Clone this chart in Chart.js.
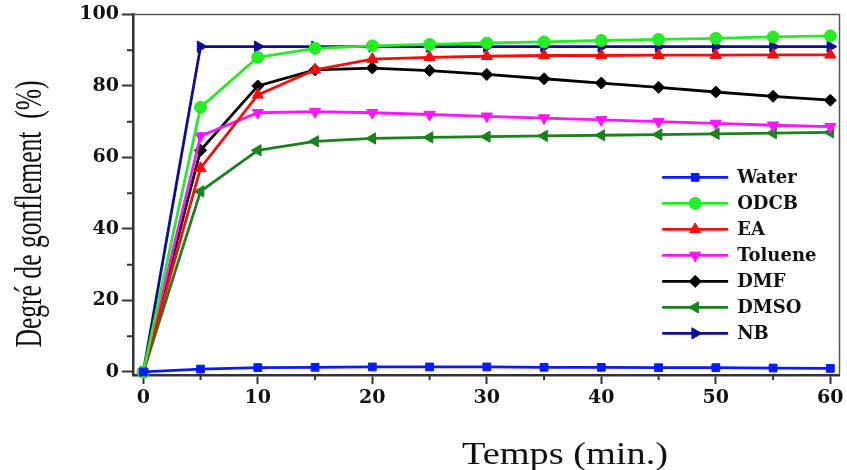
<!DOCTYPE html>
<html><head><meta charset="utf-8">
<script src="https://cdn.jsdelivr.net/npm/chart.js@4.4.1/dist/chart.umd.min.js"></script>
<style>html,body{margin:0;padding:0;background:#fff}#wrap{width:847px;height:470px}</style>
</head><body><div id="wrap"><canvas id="c" width="847" height="470"></canvas></div>
<script>
const times   = [0, 5, 10, 15, 20, 25, 30, 35, 40, 45, 50, 55, 60];
const water   = [0, 0.8, 1.2, 1.3, 1.4, 1.4, 1.4, 1.3, 1.3, 1.2, 1.2, 1.1, 1.0];
const odcb    = [0, 74, 88, 90.5, 91.2, 91.6, 92, 92.3, 92.7, 93, 93.3, 93.7, 94];
const ea      = [0, 57, 77.5, 84.5, 87.5, 88, 88.3, 88.5, 88.5, 88.6, 88.6, 88.7, 88.7];
const toluene = [0, 66, 72.5, 72.8, 72.5, 72, 71.5, 71, 70.5, 70, 69.5, 69, 68.6];
const dmf     = [0, 62, 80, 84.5, 85, 84.3, 83.2, 82, 80.8, 79.6, 78.3, 77.1, 76];
const dmso    = [0, 50.5, 62, 64.5, 65.3, 65.6, 65.8, 66, 66.2, 66.4, 66.6, 66.8, 67];
const nb      = [0, 91, 91, 91, 91, 91, 91, 91, 91, 91, 91, 91, 91];

const seriesLabels = ['Water', 'ODCB', 'EA', 'Toluene', 'DMF', 'DMSO', 'NB'];
const xTickValues = [0, 10, 20, 30, 40, 50, 60];
const xMinorTicks = [5, 15, 25, 35, 45, 55];
const yTickValues = [0, 20, 40, 60, 80, 100];
const yMinorTicks = [10, 30, 50, 70, 90];
const xTitle = 'Temps (min.)';
const yTitle = 'Degré de gonflement  (%)';

const styles = [
  {color:'#0a1aff', pointStyle:'rect', rotation:0, r:5.5},
  {color:'#22ee22', pointStyle:'circle', rotation:0, r:6},
  {color:'#ff0a0a', pointStyle:'triangle', rotation:0, r:6.5},
  {color:'#ff14ff', pointStyle:'triangle', rotation:180, r:6.5},
  {color:'#000000', pointStyle:'rectRot', rotation:0, r:6},
  {color:'#1a821a', pointStyle:'triangle', rotation:-90, r:6.5},
  {color:'#0c0ca0', pointStyle:'triangle', rotation:90, r:6.5}
];
const values = [water, odcb, ea, toluene, dmf, dmso, nb];

const datasets = values.map((arr, i) => ({
  label: seriesLabels[i],
  data: arr.map((v, j) => ({x: times[j], y: v})),
  borderColor: styles[i].color,
  backgroundColor: styles[i].color,
  borderWidth: 2.8,
  pointStyle: styles[i].pointStyle,
  rotation: styles[i].rotation,
  pointRadius: styles[i].r,
  pointBorderWidth: 1,
  tension: 0,
  clip: false
}));

const decor = {
  id: 'decor',
  afterDraw(chart) {
    const ctx = chart.ctx, a = chart.chartArea;
    const xs = chart.scales.x, ys = chart.scales.y;
    ctx.save();
    ctx.strokeStyle = '#555'; ctx.lineWidth = 1.5;
    ctx.beginPath(); ctx.moveTo(a.left, a.top); ctx.lineTo(a.right, a.top); ctx.lineTo(a.right, a.bottom); ctx.stroke();
    ctx.strokeStyle = '#333'; ctx.lineWidth = 2;
    ctx.beginPath();
    yMinorTicks.forEach(v => { const p = ys.getPixelForValue(v); ctx.moveTo(a.left - 6, p); ctx.lineTo(a.left, p); });
    xMinorTicks.forEach(v => { const p = xs.getPixelForValue(v); ctx.moveTo(p, a.bottom); ctx.lineTo(p, a.bottom + 5); });
    ctx.stroke();
    const lx0 = a.left + (a.right - a.left) * 0.749, lx1 = lx0 + 66, tx = lx1 + 9;
    const ly0 = a.top + (a.bottom - a.top) * 0.452, dy = 26;
    chart.data.datasets.forEach((ds, i) => {
      const y = ly0 + i * dy;
      ctx.strokeStyle = ds.borderColor; ctx.fillStyle = ds.backgroundColor; ctx.lineWidth = 2.8;
      ctx.beginPath(); ctx.moveTo(lx0, y); ctx.lineTo(lx1, y); ctx.stroke();
      ctx.lineWidth = 1;
      Chart.helpers.drawPoint(ctx, {pointStyle: ds.pointStyle, rotation: ds.rotation, radius: ds.pointRadius, borderWidth: 1}, (lx0 + lx1) / 2, y);
      ctx.fillStyle = '#111';
      ctx.font = 'bold 18px "DejaVu Serif"';
      ctx.textBaseline = 'middle'; ctx.textAlign = 'left';
      ctx.fillText(ds.label, tx, y + 1);
    });
    ctx.fillStyle = '#111';
    ctx.font = '32px "Liberation Serif"';
    ctx.textBaseline = 'alphabetic'; ctx.textAlign = 'center';
    let w = ctx.measureText(xTitle).width;
    ctx.save();
    ctx.translate(565, 464);
    ctx.scale(206 / w, 1);
    ctx.fillText(xTitle, 0, 0);
    ctx.restore();
    ctx.font = '25px "Liberation Serif"';
    w = ctx.measureText(yTitle).width;
    ctx.save();
    ctx.translate(41, 214);
    ctx.rotate(-Math.PI / 2);
    ctx.scale(267 / w, 1.55);
    ctx.fillText(yTitle, 0, 0);
    ctx.restore();
    ctx.restore();
  }
};

new Chart(document.getElementById('c'), {
  type: 'line',
  data: {datasets},
  options: {
    responsive: false,
    animation: false,
    devicePixelRatio: 1,
    layout: {padding: {left: 0, right: 7, top: 14, bottom: 0}},
    plugins: {legend: {display: false}, tooltip: {enabled: false}},
    scales: {
      x: {
        type: 'linear', min: -0.9, max: 60.8,
        afterBuildTicks: ax => { ax.ticks = xTickValues.map(v => ({value: v})); },
        afterFit: s => { s.height = 95; },
        ticks: {font: {family: 'DejaVu Serif', weight: 'bold', size: 19}, color: '#111', padding: 3, maxRotation: 0, autoSkip: false},
        grid: {drawOnChartArea: false, drawTicks: true, tickLength: 9, tickWidth: 2, tickColor: '#333'},
        border: {display: true, color: '#333', width: 2.5}
      },
      y: {
        type: 'linear', min: -0.85, max: 100,
        afterBuildTicks: ax => { ax.ticks = yTickValues.map(v => ({value: v})); },
        afterFit: s => { s.width = 133; },
        ticks: {font: {family: 'DejaVu Serif', weight: 'bold', size: 19}, color: '#111', padding: 3, autoSkip: false},
        grid: {drawOnChartArea: false, drawTicks: true, tickLength: 11, tickWidth: 2, tickColor: '#333'},
        border: {display: true, color: '#333', width: 2.5}
      }
    }
  },
  plugins: [decor]
});
</script></body></html>
